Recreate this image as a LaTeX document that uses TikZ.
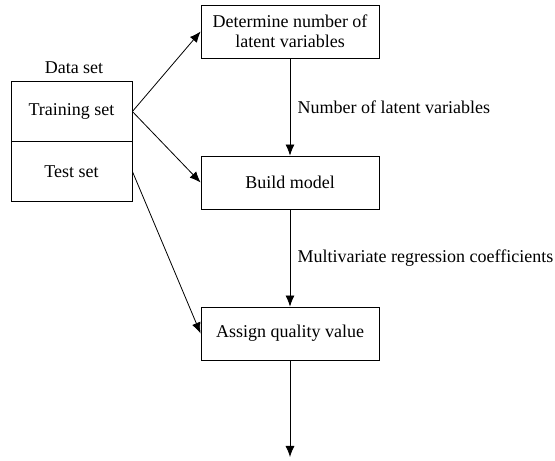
\documentclass[tikz,border=0pt]{standalone}
\usepackage{fontspec}
\setmainfont{Liberation Serif}
\usetikzlibrary{arrows.meta}
\begin{document}
\begin{tikzpicture}[x=1pt, y=1pt, line width=0.8pt,
		font=\fontsize{18}{21}\selectfont,
		stepbox/.style={draw, minimum width=178pt, minimum height=53pt, inner sep=2pt, align=center},
		setbox/.style={draw, minimum width=121pt, minimum height=60pt, inner sep=2pt},
		flow/.style={-{Latex[length=11pt, width=9pt]}}]
		\useasboundingbox (0,0) rectangle (555,461);
		\node (label) at (74,393) {Data set};
		\node[setbox] (train) at (71.5,349.5) {Training set};
		\node[setbox] (test) at (71.5,289.5) {Test set};
		\node[stepbox] (latent) at (290,429.5) {Determine number of\\[-1pt]latent variables};
		\node[stepbox] (build) at (290,278.5) {Build model};
		\node[stepbox] (assign) at (290,127.5) {Assign quality value};
		\coordinate (out) at (290,4);
		\draw[flow] (train.east) -- (latent.west);
		\draw[flow] (train.east) -- (build.west);
		\draw[flow] (test.east) -- (assign.west);
		\draw[flow] (latent) -- (build) node[pos=.5, right=4pt] {Number of latent variables};
		\draw[flow] (build) -- (assign) node[pos=.5, right=4pt] {Multivariate regression coefficients};
		\draw[flow] (assign) -- (out);
	\end{tikzpicture}
\end{document}
